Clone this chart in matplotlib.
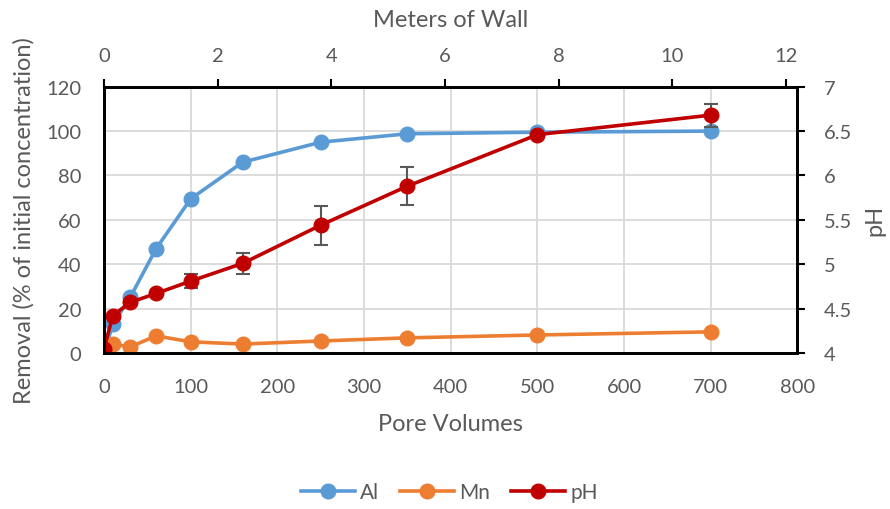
import matplotlib
matplotlib.use("Agg")
import matplotlib.pyplot as plt

# pore volumes passed through the wall
pore_volumes = [0, 10, 30, 60, 100, 160, 250, 350, 500, 700]

# removal, % of initial concentration
al_removal = [0, 13, 25, 47, 69.5, 86, 95, 98.8, 99.5, 100]
mn_removal = [0.5, 4, 2.7, 7.7, 5, 4, 5.4, 6.8, 8.1, 9.5]

# effluent pH and its spread
ph_values = [4.05, 4.42, 4.57, 4.67, 4.81, 5.01, 5.44, 5.88, 6.46, 6.68]
ph_err = [0, 0, 0, 0, 0.08, 0.12, 0.22, 0.21, 0.02, 0.13]

blue = '#5B9BD5'
orange = '#ED7D31'
red = '#C00000'
gray = '#595959'
plt.rcParams['font.family'] = ['Lato', 'DejaVu Sans']

fig = plt.figure(figsize=(8.9, 5.1), dpi=100)
ax = fig.add_axes([0.117, 0.306, 0.779, 0.522])

line_kw = dict(lw=2.6, marker='o', ms=10.5)
ax.plot(pore_volumes, al_removal, color=blue, label='Al', zorder=3, **line_kw)
ax.plot(pore_volumes, mn_removal, color=orange, label='Mn', zorder=3, **line_kw)
ax.set_xlim(0, 800)
ax.set_ylim(0, 120)
ax.set_xticks(range(0, 801, 100))
ax.set_yticks(range(0, 121, 20))
ax.grid(True, color='#D9D9D9', lw=1.3)
ax.set_axisbelow(True)
ax.tick_params(length=0, labelsize=14.5, labelcolor=gray)
ax.tick_params(axis='x', pad=18)
ax.tick_params(axis='y', pad=16.5)
ax.set_xlabel('Pore Volumes', fontsize=17, color=gray, labelpad=13)
ax.set_ylabel('Removal (% of initial concentration)', fontsize=17, color=gray, labelpad=8)

# pH on the secondary y axis
ax2 = ax.twinx()
ax2.errorbar(pore_volumes, ph_values, yerr=ph_err, color=red, ecolor='#595959',
             elinewidth=1.5, capsize=5, capthick=1.5, label='pH', zorder=4, **line_kw)
ax2.set_ylim(4, 7)
ax2.set_yticks([4, 4.5, 5, 5.5, 6, 6.5, 7])
ax2.set_yticklabels(['4', '4.5', '5', '5.5', '6', '6.5', '7'])
ax2.tick_params(axis='y', direction='out', length=6, width=1.5, color='black',
                labelsize=14.5, labelcolor=gray, pad=13)
ax2.set_ylabel('pH', fontsize=17, color=gray, labelpad=9)

# wall length on the secondary x axis
ax3 = ax.twiny()
ax3.set_xlim(0, 12.2)
ax3.set_xticks(range(0, 13, 2))
ax3.tick_params(axis='x', direction='out', length=6, width=1.5, color='black',
                labelsize=14.5, labelcolor=gray, pad=10.5)
ax3.set_xlabel('Meters of Wall', fontsize=17, color=gray, labelpad=15)

for a in (ax, ax2, ax3):
    for s in a.spines.values():
        s.set_linewidth(1.8)
        s.set_color('black')

handles = []
for c in (blue, orange, red):
    h, = ax.plot([], [], color=c, **line_kw)
    handles.append(h)
fig.legend(handles, ['Al', 'Mn', 'pH'], loc='center', bbox_to_anchor=(0.505, 0.033),
           ncol=3, frameon=False, fontsize=15, labelcolor=gray, handlelength=2.6,
           columnspacing=1.0, handletextpad=0.25)

fig.savefig('out.png', dpi=100)
